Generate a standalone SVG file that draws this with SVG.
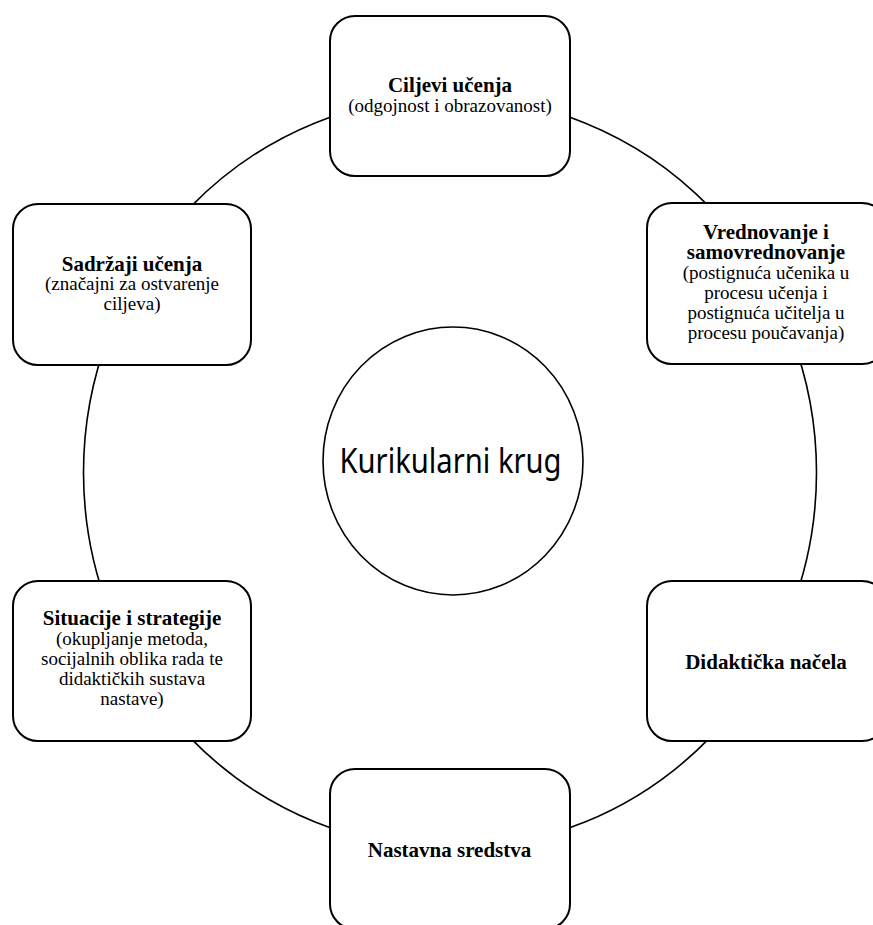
<svg xmlns="http://www.w3.org/2000/svg" width="873" height="925" viewBox="0 0 873 925">
<style>
.box{fill:#fff;stroke:#000;stroke-width:2}
.ring{fill:none;stroke:#000;stroke-width:1.6}
.t{font-family:"Liberation Serif","Times New Roman",serif;font-size:21px;font-weight:bold;text-anchor:middle;fill:#000}
.s{font-family:"Liberation Serif","Times New Roman",serif;font-size:19px;text-anchor:middle;fill:#000}
.c{font-family:"Noto Sans","Open Sans",sans-serif;font-size:34px;text-anchor:middle;fill:#000}
</style>
<rect width="873" height="925" fill="#fff"/>
<g id="connectors">
<ellipse class="ring" cx="450" cy="472.5" rx="366.5" ry="376"/>
</g>
<g id="center">
<ellipse cx="453" cy="461" rx="130" ry="134" fill="#fff" stroke="#000" stroke-width="1.6"/>
<text class="c" x="450.5" y="472.5" textLength="222" lengthAdjust="spacingAndGlyphs">Kurikularni krug</text>
</g>
<g id="ciljevi">
<rect class="box" x="330" y="16" width="240" height="160" rx="25"/>
<text class="t" x="450" y="91.5">Ciljevi učenja</text>
<text class="s" x="450" y="112">(odgojnost i obrazovanost)</text>
</g>
<g id="vrednovanje">
<rect class="box" x="647" y="203" width="240" height="161" rx="25"/>
<text class="t" x="766" y="238.5">Vrednovanje i</text>
<text class="t" x="766" y="259">samovrednovanje</text>
<text class="s" x="766" y="278.5">(postignuća učenika u</text>
<text class="s" x="766" y="298.5">procesu učenja i</text>
<text class="s" x="766" y="318.5">postignuća učitelja u</text>
<text class="s" x="766" y="338.5">procesu poučavanja)</text>
</g>
<g id="didakticka">
<rect class="box" x="647" y="581" width="240" height="160" rx="25"/>
<text class="t" x="766" y="668.5">Didaktička načela</text>
</g>
<g id="nastavna">
<rect class="box" x="330" y="769" width="240" height="160" rx="25"/>
<text class="t" x="449.5" y="857">Nastavna sredstva</text>
</g>
<g id="situacije">
<rect class="box" x="13" y="581" width="238" height="160" rx="25"/>
<text class="t" x="132" y="625">Situacije i strategije</text>
<text class="s" x="132" y="645">(okupljanje metoda,</text>
<text class="s" x="132" y="665">socijalnih oblika rada te</text>
<text class="s" x="132" y="685">didaktičkih sustava</text>
<text class="s" x="132" y="705">nastave)</text>
</g>
<g id="sadrzaji">
<rect class="box" x="13" y="204" width="238" height="161" rx="25"/>
<text class="t" x="132" y="271">Sadržaji učenja</text>
<text class="s" x="132" y="290">(značajni za ostvarenje</text>
<text class="s" x="132" y="310">ciljeva)</text>
</g>
</svg>
